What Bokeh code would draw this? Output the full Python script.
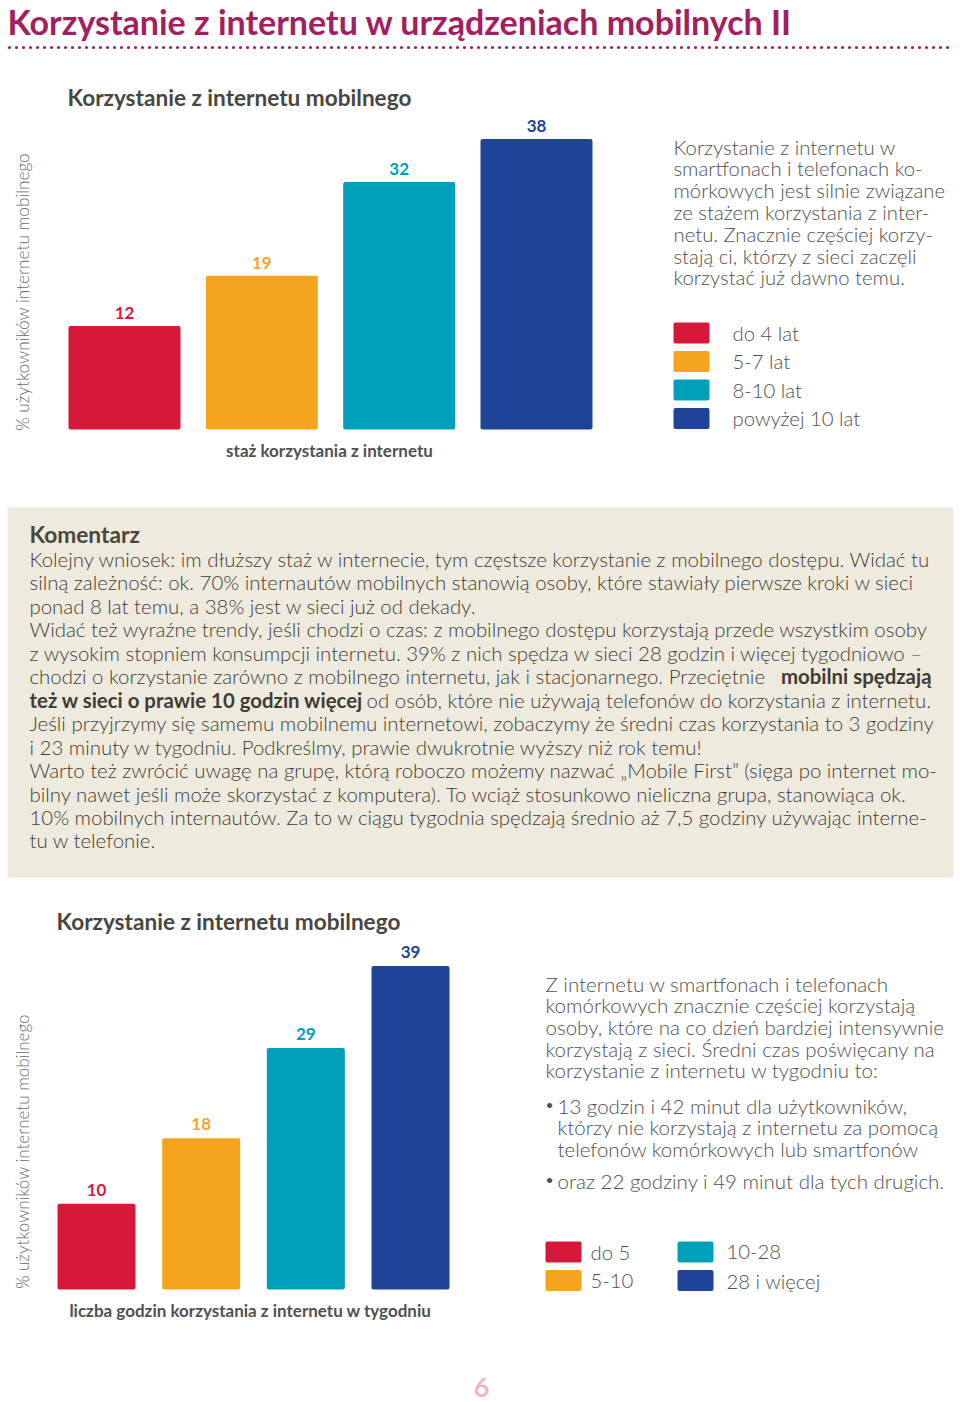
from bokeh.plotting import figure
from bokeh.models import Range1d, ColumnDataSource
from bokeh.core.properties import value
from bokeh.embed import file_html
from bokeh.resources import INLINE
import math

# ---------------- data ----------------
title_text = "Korzystanie z internetu w urządzeniach mobilnych II"
chart_title = "Korzystanie z internetu mobilnego"

cats1 = ["do 4 lat", "5-7 lat", "8-10 lat", "powyżej 10 lat"]
vals1 = [12, 19, 32, 38]
ylabel1 = "% użytkowników  internetu mobilnego"
xlabel1 = "staż korzystania z  internetu"

cats2 = ["do 5", "5-10", "10-28", "28 i więcej"]
vals2 = [10, 18, 29, 39]
ylabel2 = "% użytkowników internetu mobilnego"
xlabel2 = "liczba godzin korzystania z  internetu w tygodniu"

colors = ["#d61839", "#f5a41f", "#00a0bb", "#1f4497"]

side1 = ["Korzystanie z internetu w",
         "smartfonach i telefonach ko-",
         "mórkowych jest silnie związane",
         "ze stażem korzystania z inter-",
         "netu. Znacznie częściej korzy-",
         "stają ci, którzy z sieci zaczęli",
         "korzystać już dawno temu."]

comment_head = "Komentarz"
comment = [
    [("Kolejny wniosek: im dłuższy staż w internecie, tym częstsze korzystanie z mobilnego dostępu. Widać tu", 0)],
    [("silną zależność: ok. 70% internautów mobilnych stanowią osoby, które stawiały pierwsze kroki w sieci", 0)],
    [("ponad 8 lat temu, a 38% jest w sieci już od dekady.", 0)],
    [("Widać też wyraźne trendy, jeśli chodzi o czas: z mobilnego dostępu korzystają przede wszystkim osoby", 0)],
    [("z wysokim stopniem konsumpcji internetu. 39% z nich spędza w sieci 28 godzin i więcej tygodniowo –", 0)],
    [("chodzi o korzystanie zarówno z mobilnego internetu, jak i stacjonarnego. Przeciętnie", 0), ("mobilni spędzają", 1)],
    [("też w sieci o prawie 10 godzin więcej", 1), ("od osób, które nie używają telefonów do korzystania z internetu.", 0)],
    [("Jeśli przyjrzymy się samemu mobilnemu internetowi, zobaczymy że średni czas korzystania to 3 godziny", 0)],
    [("i 23 minuty w tygodniu. Podkreślmy, prawie dwukrotnie wyższy niż rok temu!", 0)],
    [("Warto też zwrócić uwagę na grupę, którą roboczo możemy nazwać „Mobile First” (sięga po internet mo-", 0)],
    [("bilny nawet jeśli może skorzystać z komputera). To wciąż stosunkowo nieliczna grupa, stanowiąca ok.", 0)],
    [("10% mobilnych internautów. Za to w ciągu tygodnia spędzają średnio aż 7,5 godziny używając interne-", 0)],
    [("tu w telefonie.", 0)],
]

side2 = ["Z internetu w smartfonach i telefonach",
         "komórkowych znacznie częściej korzystają",
         "osoby, które na co dzień bardziej intensywnie",
         "korzystają z sieci. Średni czas poświęcany na",
         "korzystanie z internetu w tygodniu to:"]
bullets2 = [["13 godzin i 42 minut dla użytkowników,",
             "którzy nie korzystają z internetu za pomocą",
             "telefonów komórkowych lub smartfonów"],
            ["oraz 22 godziny i 49 minut dla tych drugich."]]

page_no = "6"

# ---------------- style / layout ----------------
FONT = "Lato"
LIGHT = "Lato Light"
MAGENTA = "#a2205f"
DARK = "#48473f"
BODY = "#3f3c35"
GREY = "#505050"
LGREY = "#6a6a6a"
BEIGE = "#efeade"

W, H = 960, 1402
X0, Y0 = 0, 0  # data coords equal page pixel coords

p = figure(width=W, height=H, x_range=Range1d(X0, X0 + W), y_range=Range1d(Y0 + H, Y0),
           output_backend="svg", toolbar_location=None, min_border=0)
p.axis.visible = False
p.grid.visible = False
p.outline_line_color = None
p.background_fill_color = "white"
p.border_fill_color = "white"


def txt(xs, ys, texts, size, color, style="normal", align="left", baseline="middle",
        angle=0.0, font=FONT):
    src = ColumnDataSource(dict(x=xs, y=ys, t=texts))
    p.text(x="x", y="y", text="t", source=src, text_font=value(font),
           text_font_size=f"{size}px", text_color=color, text_font_style=style,
           text_align=align, text_baseline=baseline, angle=angle)


# ---- page title + dotted rule ----
txt([7], [21], [title_text], 34, MAGENTA, "bold")
p.line(x=[9, 953], y=[47, 47], line_color=MAGENTA, line_width=3.2, line_dash="0 7", line_cap="round")

# ---- bar chart helper using extra ranges ----
def bar_chart(name, cats, vals, cx0, dx, bw, base_y, k, v0, label_gap):
    # value -> page y : base_y - (v - v0) * k ; index -> page x : cx0 + i*dx
    p.extra_y_ranges[name + "y"] = Range1d(v0 - (Y0 + H - base_y) / k, v0 + (base_y - Y0) / k)
    p.extra_x_ranges[name + "x"] = Range1d((X0 - cx0) / dx, (X0 + W - cx0) / dx)
    idx = list(range(len(cats)))
    src = ColumnDataSource(dict(x=idx, top=vals, cat=cats, color=colors[:len(cats)],
                                ly=[v + label_gap / k for v in vals],
                                lab=[str(v) for v in vals]))
    p.vbar(x="x", top="top", bottom=v0, width=bw / dx, source=src, fill_color="color",
           line_color=None, border_radius=2,
           x_range_name=name + "x", y_range_name=name + "y")
    p.text(x="x", y="ly", text="lab", source=src, text_color="color",
           text_font=value(FONT), text_font_size="17px", text_font_style="bold",
           text_align="center", text_baseline="middle",
           x_range_name=name + "x", y_range_name=name + "y")


# ---- chart 1 ----
txt([67], [97], [chart_title], 22.6, DARK, "bold")
txt([22], [289], [ylabel1], 17.2, LGREY, align="center", angle=math.pi / 2, font=LIGHT)
bar_chart("c1", cats1, vals1, 124, 137.33, 112, 429, 7.2, -2.36, 13)
txt([331], [450], [xlabel1], 17, GREY, "bold", align="center")

txt([673] * len(side1), [146 + 21.8 * i for i in range(len(side1))], side1, 20.3, GREY, font=LIGHT)

for i, c in enumerate(cats1):
    yy = 332.5 + 28.5 * i
    p.rect(x=[691], y=[yy], width=36, height=21, fill_color=colors[i], line_color=None, border_radius=2)
txt([732] * len(cats1), [332 + 28.5 * i for i in range(len(cats1))], cats1, 20.3, GREY, font=LIGHT)

# ---- comment box ----
p.quad(left=[7], right=[953], top=[507], bottom=[877], fill_color=BEIGE, line_color=None)
txt([29], [534], [comment_head], 22.7, "#4a463d", "bold")
for i, segs in enumerate(comment):
    yy = 558.5 + 23.45 * i
    if len(segs) == 1:
        txt([29], [yy], [segs[0][0]], 20.4, BODY, font=LIGHT)
    else:
        (t0, b0), (t1, b1) = segs
        txt([29], [yy], [t0], 20.4, BODY, "bold" if b0 else "normal", font=FONT if b0 else LIGHT)
        txt([931], [yy], [t1], 20.4, BODY, "bold" if b1 else "normal", align="right",
            font=FONT if b1 else LIGHT)

# ---- chart 2 ----
txt([56], [921], [chart_title], 22.6, DARK, "bold")
txt([22], [1151], [ylabel2], 17, LGREY, align="center", angle=math.pi / 2, font=LIGHT)
bar_chart("c2", cats2, vals2, 96, 104.67, 78, 1289, 8.2, -0.45, 14)
txt([252], [1310], [xlabel2], 17, GREY, "bold", align="center")

txt([545] * len(side2), [983 + 21.7 * i for i in range(len(side2))], side2, 20.5, GREY, font=LIGHT)
bl_y = [1105, 1180]
for j, item in enumerate(bullets2):
    txt([545], [bl_y[j] - 1], ["•"], 14, GREY)
    txt([557] * len(item), [bl_y[j] + 21.6 * i for i in range(len(item))], item, 20.5, GREY, font=LIGHT)

for i, c in enumerate(cats2):
    col, row = divmod(i, 2)
    sx = 563 + 132 * col
    sy = 1251.5 + 28.5 * row
    p.rect(x=[sx], y=[sy], width=36, height=21, fill_color=colors[i], line_color=None, border_radius=2)
    txt([590 + 136 * col], [sy], [c], 20.3, GREY, font=LIGHT)

# ---- page number ----
txt([481], [1387], [page_no], 27, "#ebb6ca", "bold", align="center")

open("out.html", "w").write(file_html(p, INLINE))
